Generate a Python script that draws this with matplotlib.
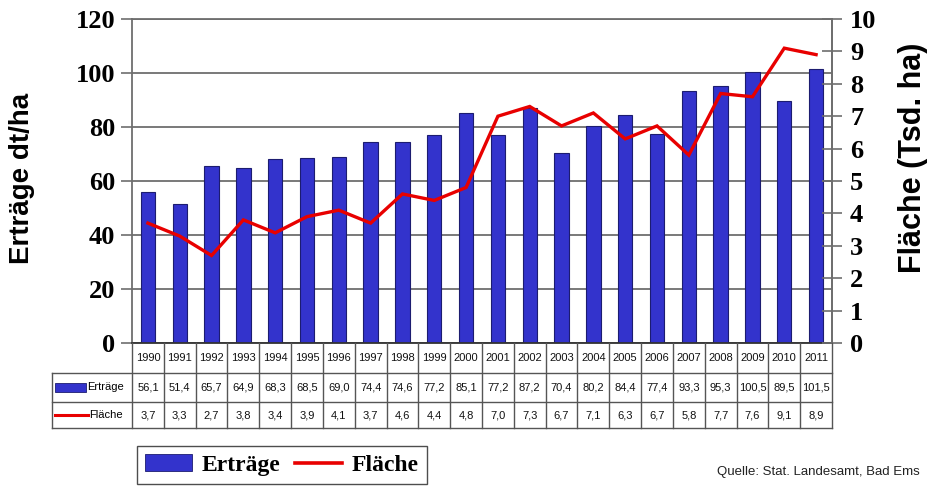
import matplotlib
matplotlib.use('Agg')
import matplotlib.pyplot as plt
import matplotlib.transforms as mtransforms
from matplotlib.lines import Line2D
from matplotlib.patches import Rectangle
import numpy as np

years = ['1990', '1991', '1992', '1993', '1994', '1995', '1996', '1997', '1998', '1999', '2000',
         '2001', '2002', '2003', '2004', '2005', '2006', '2007', '2008', '2009', '2010', '2011']
ertraege = [56.1, 51.4, 65.7, 64.9, 68.3, 68.5, 69.0, 74.4, 74.6, 77.2, 85.1,
            77.2, 87.2, 70.4, 80.2, 84.4, 77.4, 93.3, 95.3, 100.5, 89.5, 101.5]
flaeche = [3.7, 3.3, 2.7, 3.8, 3.4, 3.9, 4.1, 3.7, 4.6, 4.4, 4.8,
           7.0, 7.3, 6.7, 7.1, 6.3, 6.7, 5.8, 7.7, 7.6, 9.1, 8.9]

W, H = 929, 488
bar_col = '#3333CC'
bar_edge = '#1c1c70'
line_col = '#E80000'
grid_col = '#6e6e6e'
serif = 'Liberation Serif'
sans = 'Liberation Sans'

def fx(px):
    return px / W

def fy(py):
    return 1 - py / H

fig = plt.figure(figsize=(W / 100, H / 100), dpi=100)
ax = fig.add_axes([fx(132), fy(343), fx(832) - fx(132), fy(19) - fy(343)])
x = np.arange(len(years))

ax.bar(x, ertraege, width=0.45, color=bar_col, edgecolor=bar_edge, linewidth=0.8, zorder=2)
ax.set_xlim(-0.5, len(years) - 0.5)
ax.set_ylim(0, 120)
ax.set_yticks(np.arange(0, 121, 20))
ax.yaxis.grid(True, color=grid_col, lw=1.3, zorder=0)
ax.set_axisbelow(True)
ax.set_xticks([])
ax.tick_params(axis='y', direction='out', length=8, width=1.2, color=grid_col, pad=4)
for lab in ax.get_yticklabels():
    lab.set_fontfamily(serif)
    lab.set_fontweight('bold')
    lab.set_fontsize(19)
for s in ['left', 'right', 'top']:
    ax.spines[s].set_color(grid_col)
    ax.spines[s].set_linewidth(1.3)
ax.spines['bottom'].set_color('#333333')
ax.spines['bottom'].set_linewidth(1.3)
ax.set_ylabel('Erträge dt/ha', fontsize=20, fontweight='bold', family=sans)
ax.yaxis.set_label_coords(-0.139, 0.509)

ax2 = ax.twinx()
ax2.plot(x, flaeche, color=line_col, lw=2.4, solid_joinstyle='miter', zorder=3)
ax2.set_ylim(0, 10)
ax2.set_yticks(np.arange(0, 11, 1))
ax2.tick_params(axis='y', direction='inout', length=14, width=1.2, color=grid_col, pad=6)
for lab in ax2.get_yticklabels():
    lab.set_fontfamily(serif)
    lab.set_fontweight('bold')
    lab.set_fontsize(19)
for s in ax2.spines.values():
    s.set_visible(False)
ax2.spines['right'].set_visible(True)
ax2.spines['right'].set_color(grid_col)
ax2.spines['right'].set_linewidth(1.3)
ax2.set_ylabel('Fläche (Tsd. ha)', fontsize=22, fontweight='bold', family=sans)
ax2.yaxis.set_label_coords(1.094, 0.571)

# data table below the axes
trans = mtransforms.blended_transform_factory(ax.transData, fig.transFigure)
tcol = '#555555'
row_top, row1, row2, row3 = fy(343), fy(373), fy(402), fy(428)
for i in range(len(years) + 1):
    fig.add_artist(Line2D([i - 0.5, i - 0.5], [row_top, row3], transform=trans,
                          color=tcol, lw=1.0))
for yy in [row1, row2, row3]:
    fig.add_artist(Line2D([fx(52), fx(832)], [yy, yy], transform=fig.transFigure,
                          color=tcol, lw=1.0))
fig.add_artist(Line2D([fx(52), fx(52)], [row1, row3], transform=fig.transFigure,
                      color=tcol, lw=1.0))

tfont = dict(fontsize=8, family=sans, ha='center', va='center', color='#111111')
for i, yr in enumerate(years):
    fig.text(i, (row_top + row1) / 2, yr, transform=trans, **tfont)
    fig.text(i, (row1 + row2) / 2, f'{ertraege[i]:.1f}'.replace('.', ','), transform=trans, **tfont)
    fig.text(i, (row2 + row3) / 2, f'{flaeche[i]:.1f}'.replace('.', ','), transform=trans, **tfont)

fig.add_artist(Rectangle((fx(55), (row1 + row2) / 2 - 0.009), fx(31), 0.018,
                         transform=fig.transFigure, facecolor=bar_col, edgecolor=bar_edge, lw=0.6))
fig.text(fx(87), (row1 + row2) / 2, 'Erträge', fontsize=8, family=sans, va='center')
fig.add_artist(Line2D([fx(55), fx(88)], [(row2 + row3) / 2] * 2, transform=fig.transFigure,
                      color=line_col, lw=2.2))
fig.text(fx(89), (row2 + row3) / 2, 'Fläche', fontsize=8, family=sans, va='center')

# legend
handles = [Rectangle((0, 0), 1, 1, facecolor=bar_col, edgecolor=bar_edge, lw=0.6),
           Line2D([0], [0], color=line_col, lw=2.6)]
leg = fig.legend(handles, ['Erträge', 'Fläche'], loc='upper left',
                 bbox_to_anchor=(fx(137), fy(446)), ncol=2, frameon=True, fancybox=False,
                 borderaxespad=0, handlelength=2.0, handletextpad=0.4, columnspacing=0.6,
                 borderpad=0.35, prop=dict(family=serif, weight='bold', size=17))
leg.get_frame().set_edgecolor('#222222')
leg.get_frame().set_linewidth(1.0)

fig.text(fx(920), fy(472), 'Quelle: Stat. Landesamt, Bad Ems', fontsize=9.5, family=sans,
         ha='right', va='center', color='#222222')

fig.savefig('out.png', dpi=100)
